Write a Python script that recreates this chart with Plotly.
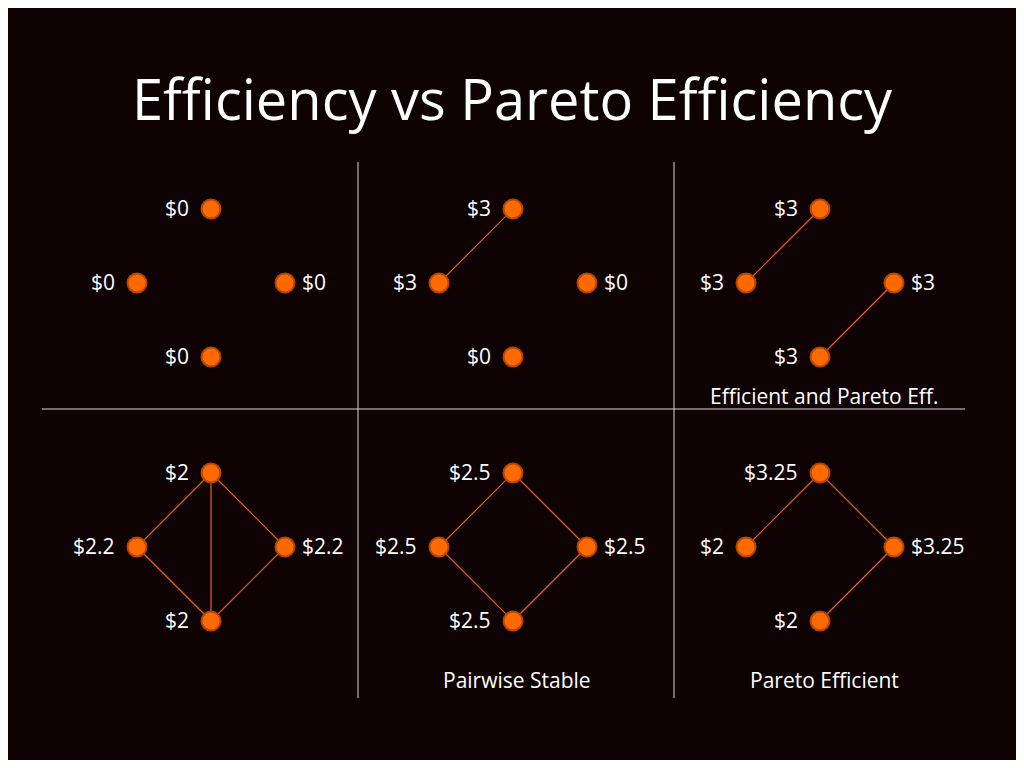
import plotly.graph_objects as go

# panel centres (x, y) in page pixels, nodes are top, left, right, bottom
panel_x = [211, 513, 820, 211, 513, 820]
panel_y = [283, 283, 283, 547, 547, 547]
node_dx = [0, -74, 74, 0]
node_dy = [-74, 0, 0, 74]

payoffs = [
    ["$0", "$0", "$0", "$0"],
    ["$3", "$3", "$0", "$0"],
    ["$3", "$3", "$3", "$3"],
    ["$2", "$2.2", "$2.2", "$2"],
    ["$2.5", "$2.5", "$2.5", "$2.5"],
    ["$3.25", "$2", "$3.25", "$2"],
]
# edges as node index pairs (0 top, 1 left, 2 right, 3 bottom)
edges = [
    [],
    [(0, 1)],
    [(0, 1), (2, 3)],
    [(0, 1), (0, 2), (0, 3), (1, 3), (2, 3)],
    [(0, 1), (0, 2), (1, 3), (2, 3)],
    [(0, 1), (0, 2), (2, 3)],
]
captions = ["", "", "Efficient and Pareto Eff.", "", "Pairwise Stable", "Pareto Efficient"]
caption_y = [0, 0, 396, 0, 680, 680]

ORANGE = "#ff6a00"
EDGE = "#e8601a"
BG = "#0f0203"

fig = go.Figure()

# grid dividers
fig.add_trace(go.Scatter(x=[358, 358, None, 674, 674, None, 42, 965],
                         y=[162, 698, None, 162, 698, None, 409, 409],
                         mode="lines", line=dict(color="#d8d8d8", width=1),
                         hoverinfo="skip"))

for p in range(6):
    xs = [panel_x[p] + d for d in node_dx]
    ys = [panel_y[p] + d for d in node_dy]
    ex, ey = [], []
    for a, b in edges[p]:
        ex += [xs[a], xs[b], None]
        ey += [ys[a], ys[b], None]
    if ex:
        fig.add_trace(go.Scatter(x=ex, y=ey, mode="lines",
                                 line=dict(color=EDGE, width=1.2), hoverinfo="skip"))
    fig.add_trace(go.Scatter(x=xs, y=ys, mode="markers",
                             marker=dict(size=19, color=ORANGE,
                                         line=dict(color="#b84400", width=2)),
                             hoverinfo="skip"))
    for i in range(4):
        fig.add_annotation(x=xs[i] + (15 if i == 2 else -20), y=ys[i] - 1,
                           text=payoffs[p][i], showarrow=False,
                           xanchor="left" if i == 2 else "right",
                           font=dict(size=21, color="white"))
    if captions[p]:
        fig.add_annotation(x=panel_x[p] + 4, y=caption_y[p], text=captions[p],
                           showarrow=False, font=dict(size=21, color="white"))

fig.add_annotation(x=512, y=98, text="Efficiency vs Pareto Efficiency",
                   showarrow=False, font=dict(size=56, color="white"))

# page body has an 8px margin, so the figure is offset by 8px
fig.update_layout(
    width=1008, height=752, showlegend=False,
    margin=dict(l=0, r=0, t=0, b=0),
    paper_bgcolor=BG, plot_bgcolor=BG,
    font=dict(family="Open Sans"),
    xaxis=dict(range=[8, 1016], visible=False, fixedrange=True),
    yaxis=dict(range=[760, 8], visible=False, fixedrange=True),
)

fig.write_html("out.html")
